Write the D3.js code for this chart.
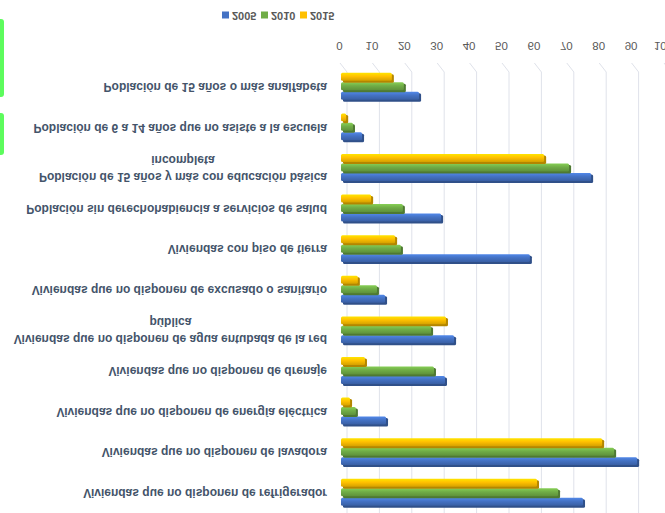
<!DOCTYPE html>
<html>
<head>
<meta charset="utf-8">
<script src="https://cdn.jsdelivr.net/npm/d3@7"></script>
<style>
  body { margin: 0; background: #fff; }
  svg { display: block; }
</style>
</head>
<body>
<svg width="665" height="513"></svg>
<script>
// categorias de arriba hacia abajo (antes de voltear la imagen)
var categorias = [
    "Viviendas que no disponen de refrigerador",
    "Viviendas que no disponen de lavadora",
    "Viviendas que no disponen de energía eléctrica",
    "Viviendas que no disponen de drenaje",
    "Viviendas que no disponen de agua entubada de la red\npública",
    "Viviendas que no disponen de excusado o sanitario",
    "Viviendas con piso de tierra",
    "Población sin derechohabiencia a servicios de salud",
    "Población de 15 años y más con educación básica\nincompleta",
    "Población de 6 a 14 años que no asiste a la escuela",
    "Población de 15 años o más analfabeta"
];
var anios = ["2005", "2010", "2015"];
var valores2005 = [74.7, 91.4, 13.9, 32.1, 34.9, 13.6, 58.3, 30.9, 77.2, 6.5, 24.1];
var valores2010 = [67.0, 84.3, 4.6, 28.7, 27.8, 11.1, 18.5, 19.1, 70.4, 3.7, 19.4];
var valores2015 = [60.5, 80.6, 2.8, 7.4, 32.4, 5.2, 16.7, 9.3, 62.7, 1.6, 15.7];
var marcas = [0, 10, 20, 30, 40, 50, 60, 70, 80, 90, 100];
var colores = ["#4472C4", "#70AD47", "#FFC000"];

var series = [valores2005, valores2010, valores2015];
var data = categorias.map(function (c, i) {
    return {
        categoria: c,
        valores: anios.map(function (a, j) { return { anio: a, valor: series[j][i], color: colores[j] }; })
    };
});

var svg = d3.select("svg"),
    width = +svg.attr("width"),
    height = +svg.attr("height");

// unas marcas verdes en el borde izquierdo de la imagen original
svg.append("rect").attr("x", -4).attr("y", 19).attr("width", 8).attr("height", 78)
    .attr("rx", 3).attr("fill", "#5dfc5d");
svg.append("rect").attr("x", -4).attr("y", 113).attr("width", 8).attr("height", 42)
    .attr("rx", 3).attr("fill", "#5dfc5d");

// todo el grafico esta volteado verticalmente en la referencia
var g = svg.append("g")
    .attr("transform", "translate(0," + height + ") scale(1,-1)");

var x = d3.scaleLinear().domain([0, 100]).range([341, 665]);
var y = d3.scaleBand().domain(categorias).range([0.7, 447.3])
    .paddingInner(0.3).paddingOuter(0.15);
var y1 = d3.scaleBand().domain(anios).range([0, y.bandwidth()]);

// degradados de las barras
var defs = svg.append("defs");
colores.forEach(function (c, i) {
    var grad = defs.append("linearGradient").attr("id", "grad" + i)
        .attr("x1", 0).attr("y1", 0).attr("x2", 0).attr("y2", 1);
    grad.append("stop").attr("offset", "0%").attr("stop-color", d3.color(c).darker(0.5));
    grad.append("stop").attr("offset", "55%").attr("stop-color", c);
    grad.append("stop").attr("offset", "100%").attr("stop-color", d3.color(c).brighter(0.5));
});

// lineas de la cuadricula con su pequena perspectiva
g.append("g").selectAll("path")
    .data(marcas)
    .enter().append("path")
    .attr("d", function (d) {
        return "M" + (x(d) + 6) + ",0V441L" + (x(d) - 1) + ",450";
    })
    .attr("fill", "none")
    .attr("stroke", "#dfe2ea")
    .attr("stroke-width", 1);

// etiquetas del eje x
g.append("g").selectAll("text")
    .data(marcas)
    .enter().append("text")
    .attr("x", function (d) { return x(d) - 1.5; })
    .attr("y", 468)
    .attr("text-anchor", "middle")
    .attr("dominant-baseline", "middle")
    .attr("font-family", "Liberation Sans, Arial, sans-serif")
    .attr("font-size", 11.5)
    .attr("fill", "#595959")
    .text(function (d) { return d; });

// barras
var grupos = g.append("g").selectAll("g")
    .data(data)
    .enter().append("g")
    .attr("transform", function (d) { return "translate(0," + y(d.categoria) + ")"; });

var barras = grupos.selectAll("g")
    .data(function (d) { return d.valores; })
    .enter().append("g");

barras.append("rect")
    .attr("x", x(0) + 2)
    .attr("y", function (d) { return y1(d.anio) - 1.5; })
    .attr("width", function (d) { return x(d.valor) - x(0); })
    .attr("height", y1.bandwidth() - 1)
    .attr("rx", 1.5)
    .attr("fill", function (d) { return d3.color(d.color).darker(1); });

barras.append("rect")
    .attr("x", x(0))
    .attr("y", function (d) { return y1(d.anio) + 0.5; })
    .attr("width", function (d) { return x(d.valor) - x(0); })
    .attr("height", y1.bandwidth() - 1.5)
    .attr("rx", 1.5)
    .attr("fill", function (d, i) { return "url(#grad" + i + ")"; });

// etiquetas de las categorias
var etiquetas = g.append("g").selectAll("text")
    .data(categorias)
    .enter().append("text")
    .attr("font-family", "Liberation Sans, Arial, sans-serif")
    .attr("font-size", 12)
    .attr("font-weight", "bold")
    .attr("fill", "#44546A")
    .attr("text-anchor", "middle")
    .attr("dominant-baseline", "middle");

etiquetas.each(function (c) {
    var t = d3.select(this),
        lineas = c.split("\n"),
        centro = y(c) + y.bandwidth() / 2;
    var ts = t.selectAll("tspan")
        .data(lineas)
        .enter().append("tspan")
        .attr("y", function (l, i) { return centro + (i - (lineas.length - 1) / 2) * 17; })
        .text(function (l) { return l; });
    var ancho = 0;
    ts.each(function () { ancho = Math.max(ancho, this.getComputedTextLength()); });
    ts.attr("x", 327 - ancho / 2);
});

// leyenda
var leyenda = g.append("g").selectAll("g")
    .data(anios)
    .enter().append("g")
    .attr("transform", function (d, i) { return "translate(" + (222 + i * 39) + ",498)"; });

leyenda.append("rect")
    .attr("x", 0).attr("y", -3.5)
    .attr("width", 7).attr("height", 7)
    .attr("fill", function (d, i) { return colores[i]; });

leyenda.append("text")
    .attr("x", 10)
    .attr("dominant-baseline", "middle")
    .attr("font-family", "Liberation Sans, Arial, sans-serif")
    .attr("font-size", 11)
    .attr("font-weight", "bold")
    .attr("fill", "#595959")
    .text(function (d) { return d; });
</script>
</body>
</html>
